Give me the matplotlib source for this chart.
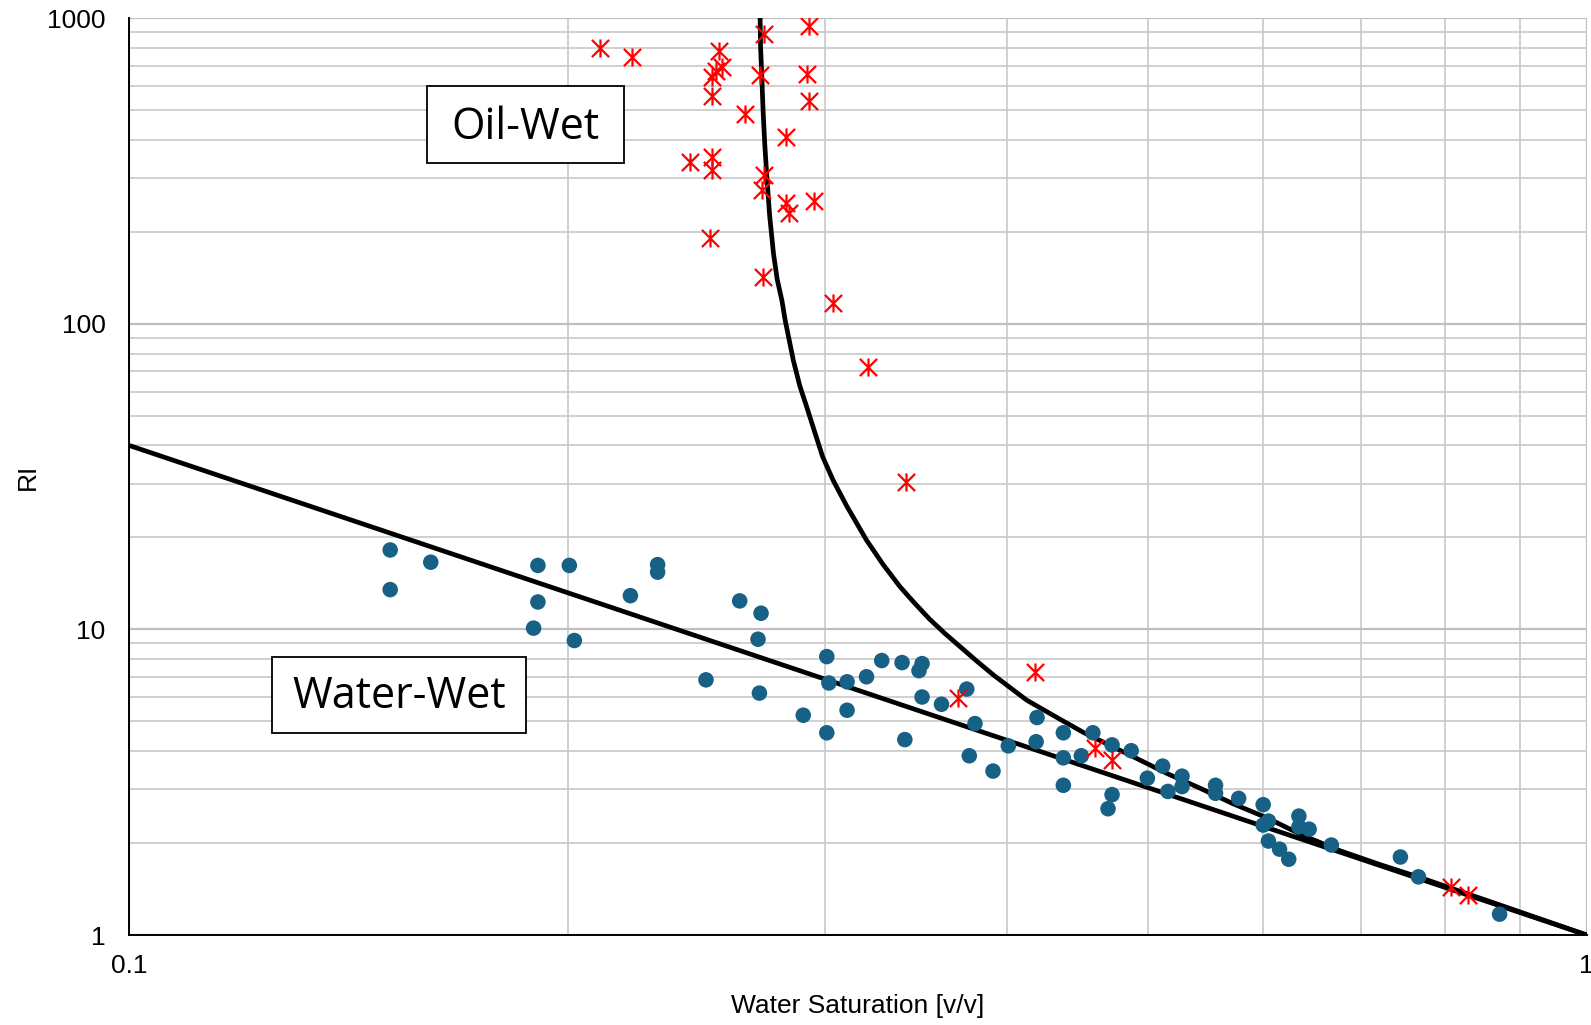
import numpy as np
import matplotlib
matplotlib.use("Agg")
import matplotlib.pyplot as plt
from matplotlib.path import Path
from matplotlib.patches import Rectangle
from matplotlib.ticker import NullFormatter

# water-wet samples (blue dots)
ww_sw = [0.151, 0.151, 0.161, 0.1907, 0.1907, 0.1894, 0.2004, 0.202, 0.2207, 0.2304,
         0.2304, 0.2487, 0.2623, 0.2713, 0.270, 0.2706, 0.290, 0.301, 0.302, 0.301,
         0.3108, 0.3108, 0.3205, 0.3283, 0.339, 0.3405, 0.3482, 0.3499, 0.3499, 0.3608,
         0.3755, 0.3804, 0.377, 0.3914, 0.401, 0.4196, 0.419, 0.4374, 0.4374, 0.4374,
         0.450, 0.4583, 0.4724, 0.4724, 0.4694, 0.4869, 0.4995, 0.5117, 0.516, 0.5276,
         0.5276, 0.5563, 0.5563, 0.577, 0.5998, 0.5998, 0.6048, 0.6048, 0.6155, 0.6245,
         0.6346, 0.6346, 0.645, 0.668, 0.745, 0.7666, 0.8714]
ww_ri = [18.2, 13.5, 16.6, 16.2, 12.3, 10.1, 16.2, 9.2, 12.9, 16.3,
         15.4, 6.84, 12.4, 11.3, 9.29, 6.19, 5.24, 8.15, 6.68, 4.59,
         6.74, 5.44, 7.0, 7.91, 7.79, 4.36, 7.33, 7.73, 6.01, 5.69,
         6.38, 4.92, 3.86, 3.44, 4.16, 5.15, 4.29, 4.59, 3.80, 3.09,
         3.86, 4.59, 4.19, 2.88, 2.59, 4.01, 3.26, 3.57, 2.95, 3.31,
         3.06, 3.09, 2.91, 2.80, 2.67, 2.29, 2.36, 2.03, 1.91, 1.77,
         2.45, 2.26, 2.22, 1.97, 1.80, 1.55, 1.17]

# oil-wet samples (red stars)
ow_sw = [0.2104, 0.2212, 0.2540, 0.2549, 0.2526, 0.2509, 0.2512, 0.2724, 0.2928, 0.2709,
         0.2916, 0.2928, 0.2645, 0.2822, 0.2424, 0.2509, 0.2509, 0.2724, 0.2716, 0.2822,
         0.2837, 0.2949, 0.2502, 0.2721, 0.3041, 0.3214, 0.3411, 0.3704, 0.4181, 0.4598,
         0.4723, 0.8067, 0.8286]
ow_ri = [796.8, 747.7, 783, 693.9, 673, 640.4, 556.4, 887.6, 942.8, 651.7,
         656.7, 535.9, 488.1, 409.6, 339.3, 352.2, 318.7, 306.7, 273.9, 247.8,
         229.9, 252.7, 191.3, 142.8, 117.0, 72.4, 30.3, 5.95, 7.27, 4.08,
         3.74, 1.44, 1.35]

# water-wet trend (straight on log-log)
line_sw = [0.1, 1.0]
line_ri = [40, 1]

# oil-wet trend
curve_sw = [0.2709, 0.2711, 0.2716, 0.2722, 0.2729, 0.2738, 0.2750, 0.2767, 0.2783, 0.2804,
            0.2818, 0.2855, 0.2884, 0.2916, 0.2949, 0.2990, 0.3040, 0.3107, 0.3205, 0.3289,
            0.3379, 0.3456, 0.3540, 0.3626, 0.3714, 0.3811, 0.3916, 0.4128, 0.4352, 0.4516,
            0.4886, 0.5151, 0.5431, 0.5718, 0.6031, 0.6384, 0.6766, 0.7214, 0.7692, 0.8744,
            1.0]
curve_ri = [1000, 806.5, 651.4, 494.6, 387.3, 303.1, 226.8, 169.6, 140.1, 119.3,
            103.2, 76.0, 62.8, 53.5, 45.2, 36.8, 30.8, 25.3, 19.6, 16.35,
            13.8, 12.23, 10.82, 9.72, 8.80, 7.91, 7.10, 5.87, 5.08, 4.60,
            3.83, 3.38, 3.02, 2.69, 2.42, 2.12, 1.89, 1.70, 1.54, 1.248,
            1.0]

star = Path([(-1, -1), (1, 1), (-1, 1), (1, -1), (0, -1.05), (0, 1.05)],
            [Path.MOVETO, Path.LINETO, Path.MOVETO, Path.LINETO, Path.MOVETO, Path.LINETO])

fig = plt.figure(figsize=(15.91, 10.25), dpi=100)
ax = fig.add_axes([0.0813, 0.0878, 0.916, 0.8943])

ax.set_xscale('log')
ax.set_yscale('log')
ax.set_xlim(0.1, 1)
ax.set_ylim(1, 1000)

ax.grid(True, which='major', color='#bfbfbf', linewidth=1.6, zorder=0)
ax.grid(True, which='minor', color='#c8c8c8', linewidth=1.2, zorder=0)
ax.set_axisbelow(True)

ax.plot(line_sw, line_ri, color='black', linewidth=3.4, zorder=3, solid_capstyle='butt')
ax.plot(curve_sw, curve_ri, color='black', linewidth=3.4, zorder=3,
        solid_joinstyle='round')

ax.scatter(ww_sw, ww_ri, s=125, color='#176086', edgecolors='none', zorder=4, clip_on=False)
ax.plot(ow_sw, ow_ri, linestyle='none', marker=star, markersize=13,
        markeredgecolor='#ff0000', markerfacecolor='none', markeredgewidth=1.6, zorder=5)

ax.set_xticks([0.1, 1])
ax.set_xticklabels(['0.1', '1'])
ax.set_yticks([1, 10, 100, 1000])
ax.set_yticklabels(['1', '10', '100', '1000'])
ax.xaxis.set_minor_formatter(NullFormatter())
ax.yaxis.set_minor_formatter(NullFormatter())
ax.tick_params(which='both', length=0)
ax.tick_params(axis='x', pad=14)
ax.tick_params(axis='y', pad=17)
for lab in ax.get_xticklabels() + ax.get_yticklabels():
    lab.set_fontfamily('Liberation Sans')
    lab.set_fontsize(19)

for side in ['top', 'right']:
    ax.spines[side].set_visible(False)
for side in ['left', 'bottom']:
    ax.spines[side].set_color('black')
    ax.spines[side].set_linewidth(1.4)
    ax.spines[side].set_zorder(6)

ax.set_xlabel('Water Saturation [v/v]', fontsize=19, family='Liberation Sans', labelpad=11)
ax.set_ylabel('RI', fontsize=19, family='Liberation Sans', labelpad=5)

# label boxes
ax.add_patch(Rectangle((0.2044, 0.8417), 0.1350, 0.0841, transform=ax.transAxes,
                       facecolor='white', edgecolor='black', linewidth=1.3, zorder=7))
ax.add_patch(Rectangle((0.0979, 0.2208), 0.1740, 0.0830, transform=ax.transAxes,
                       facecolor='white', edgecolor='black', linewidth=1.3, zorder=7))
ax.text(0.2719, 0.8810, 'Oil-Wet', fontsize=31, family='Open Sans', ha='center', va='center',
        transform=ax.transAxes, zorder=8)
ax.text(0.1849, 0.2595, 'Water-Wet', fontsize=31, family='Open Sans', ha='center', va='center',
        transform=ax.transAxes, zorder=8)

fig.savefig('out.png', dpi=100, facecolor='white')
